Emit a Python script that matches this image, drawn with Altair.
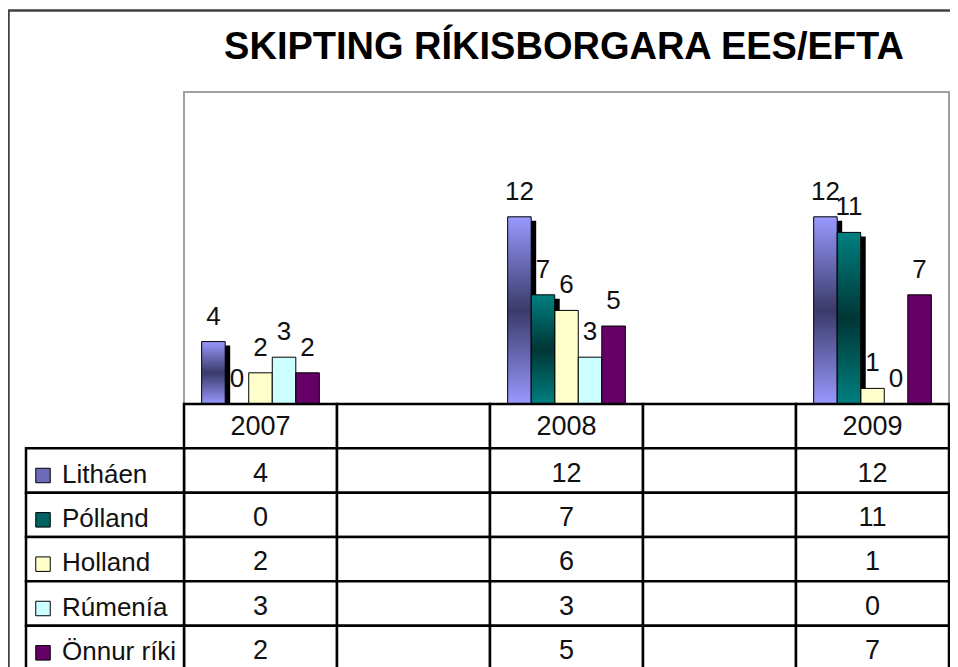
import altair as alt
import pandas as pd

FONT = "Liberation Sans"
TITLE = "SKIPTING RÍKISBORGARA EES/EFTA"
YEARS = ["2007", "2008", "2009"]
COLUMNS = ["2007", "bil1", "2008", "bil2", "2009"]  # table columns; two are empty
SERIES = ["Litháen", "Pólland", "Holland", "Rúmenía", "Önnur ríki"]
LITHAEN = [4, 12, 12]
POLLAND = [0, 7, 11]
HOLLAND = [2, 6, 1]
RUMENIA = [3, 3, 0]
ONNUR = [2, 5, 7]
COLORS = ["#6b6bb8", "#006262", "#FFFFCC", "#CCFFFF", "#660066"]

VALUES = dict(zip(SERIES, [LITHAEN, POLLAND, HOLLAND, RUMENIA, ONNUR]))
bars = pd.DataFrame(
    [{"year": y, "series": s, "value": v} for s in SERIES for y, v in zip(YEARS, VALUES[s])]
)
ROWS = ["hdr"] + SERIES
cells = pd.DataFrame([{"col": c, "row": r} for c in COLUMNS for r in ROWS])
header = pd.DataFrame({"col": YEARS, "row": ["hdr"] * len(YEARS)})
legend = pd.DataFrame({"series": SERIES, "k0": [0] * len(SERIES), "k1": [1] * len(SERIES)})
one = pd.DataFrame({"a": [0]})

W, H = 942, 659

x_year = alt.Scale(domain=COLUMNS, range=[176, 941], paddingInner=0, paddingOuter=0)
x_shadow = alt.Scale(domain=COLUMNS, range=[181, 946], paddingInner=0, paddingOuter=0)
x_off = alt.Scale(domain=SERIES, range=[0, 153], paddingInner=0, paddingOuter=0.75)
y_val = alt.Scale(domain=[0, 20], range=[396, 84], nice=False, zero=True)
y_row = alt.Scale(domain=ROWS, range=[396, 662], paddingInner=0, paddingOuter=0)
x_key = alt.Scale(domain=[0, 1], range=[18, 176], nice=False, zero=False)
x_frame = alt.Scale(domain=[0, 1], range=[176, 941], nice=False, zero=False)
fill_scale = alt.Scale(domain=SERIES, range=COLORS)


def bar_enc(xscale=x_year):
    return dict(
        x=alt.X("year:N", scale=xscale, axis=None),
        xOffset=alt.XOffset("series:N", scale=x_off),
        y=alt.Y("value:Q", scale=y_val, axis=None),
    )


def grad(c_edge, c_mid):
    return alt.LinearGradient(
        gradient="linear",
        stops=[
            alt.GradientStop(color=c_edge, offset=0),
            alt.GradientStop(color=c_mid, offset=0.5),
            alt.GradientStop(color=c_edge, offset=1),
        ],
        x1=0, x2=0, y1=0, y2=1,
    )


outer = alt.Chart(one).mark_rect(fill="transparent", stroke="#404040", strokeWidth=2.5).encode(
    x=alt.value(0.5), x2=alt.value(W + 40), y=alt.value(2.5), y2=alt.value(H + 40)
)

frame = alt.Chart(one).mark_rect(fill="transparent", stroke="#a0a0a0", strokeWidth=2).encode(
    x=alt.X(datum=0, scale=x_frame, axis=None),
    x2=alt.X2(datum=1),
    y=alt.Y(datum=20, scale=y_val, axis=None),
    y2=alt.Y2(datum=0),
)

base = alt.Chart(bars)

shadow = base.transform_filter(
    alt.FieldOneOfPredicate(field="series", oneOf=SERIES[:2])
).mark_bar(color="black", yOffset=4).encode(**bar_enc(x_shadow))

solid = base.transform_filter(
    alt.FieldOneOfPredicate(field="series", oneOf=SERIES[2:])
).mark_bar(stroke="black", strokeWidth=1).encode(
    **bar_enc(), fill=alt.Fill("series:N", scale=fill_scale, legend=None)
)

lit = base.transform_filter(alt.FieldEqualPredicate(field="series", equal=SERIES[0])).mark_bar(
    fill=grad("#9999FF", "#3a3a6a"), stroke="black", strokeWidth=1
).encode(**bar_enc())

pol = base.transform_filter(alt.FieldEqualPredicate(field="series", equal=SERIES[1])).mark_bar(
    fill=grad("#008080", "#003636"), stroke="black", strokeWidth=1
).encode(**bar_enc())

labels = base.mark_text(
    dy=-17, baseline="alphabetic", fontSize=26, font=FONT, color="#111"
).encode(**bar_enc(), text="value:Q")

table = alt.Chart(cells).mark_rect(fill="white", stroke="black", strokeWidth=2.5).encode(
    x=alt.X("col:N", scale=x_year, axis=None),
    y=alt.Y("row:N", scale=y_row, axis=None),
)

key_cells = alt.Chart(legend).mark_rect(fill="white", stroke="black", strokeWidth=2.5).encode(
    x=alt.X("k0:Q", scale=x_key, axis=None),
    x2="k1:Q",
    y=alt.Y("series:N", scale=y_row, axis=None),
)

head_text = alt.Chart(header).mark_text(fontSize=27, font=FONT, color="#111", dy=1).encode(
    x=alt.X("col:N", scale=x_year, axis=None),
    y=alt.Y("row:N", scale=y_row, axis=None),
    text="col:N",
)

val_text = alt.Chart(bars).mark_text(fontSize=27, font=FONT, color="#111", dy=3).encode(
    x=alt.X("year:N", scale=x_year, axis=None),
    y=alt.Y("series:N", scale=y_row, axis=None),
    text="value:Q",
)

swatch = alt.Chart(legend).mark_square(
    size=210, stroke="black", strokeWidth=1, opacity=1, xOffset=17, yOffset=5
).encode(
    x=alt.X("k0:Q", scale=x_key, axis=None),
    y=alt.Y("series:N", scale=y_row, axis=None),
    fill=alt.Fill("series:N", scale=fill_scale, legend=None),
)

key_text = alt.Chart(legend).mark_text(
    align="left", dx=36, dy=4, fontSize=26, font=FONT, color="#111"
).encode(
    x=alt.X("k0:Q", scale=x_key, axis=None),
    y=alt.Y("series:N", scale=y_row, axis=None),
    text="series:N",
)

title = alt.Chart(one).mark_text(
    text=TITLE, fontSize=38, fontWeight="bold", font=FONT, color="black",
    align="center", baseline="alphabetic",
).encode(x=alt.value(556), y=alt.value(51))

chart = alt.layer(
    outer, frame, shadow, solid, lit, pol, labels,
    table, key_cells, head_text, val_text, swatch, key_text, title,
).resolve_scale(x="independent", y="independent").properties(
    width=W, height=H, autosize=alt.AutoSizeParams(type="none"), padding=0
).configure_view(stroke=None)

chart.save("out.html", embed_options={"renderer": "svg", "actions": False})
